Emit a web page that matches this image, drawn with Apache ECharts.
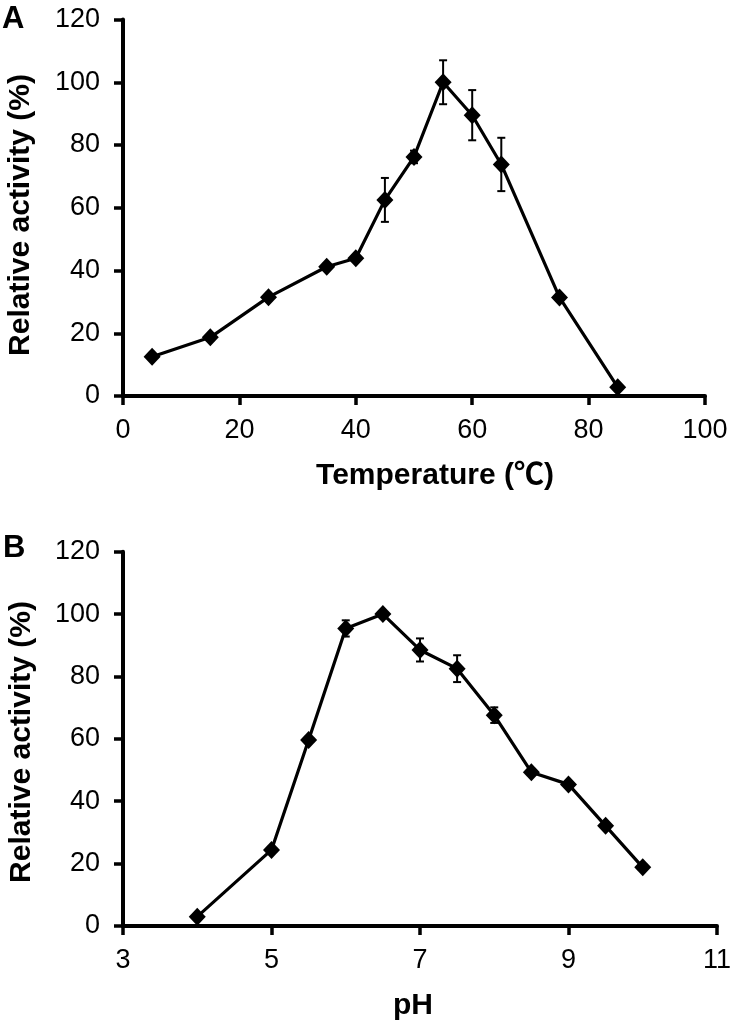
<!DOCTYPE html>
<html>
<head>
<meta charset="utf-8">
<script src="https://cdn.jsdelivr.net/npm/echarts@6/dist/echarts.min.js"></script>
<style>html,body{margin:0;padding:0;background:#fff}#c{width:734px;height:1029px}</style>
</head>
<body>
<div id="c"></div>
<script>
// Panel A: temperature
const tempX = [5, 15, 25, 35, 40, 45, 50, 55, 60, 65, 75, 85];
const tempY = [12.5, 18.7, 31.5, 41.2, 43.9, 62.5, 76.2, 100, 89.5, 73.8, 31.4, 2.8];
const tempErr = [0.8, 1, 1, 1, 1, 7, 2, 7, 8, 8.5, 1, 0.8];
// Panel B: pH
const phX = [4, 5, 5.5, 6, 6.5, 7, 7.5, 8, 8.5, 9, 9.5, 10];
const phY = [3.0, 24.4, 59.6, 95.4, 100, 88.5, 82.5, 67.6, 49.3, 45.4, 32.1, 18.8];
const phErr = [0.5, 0.5, 0.5, 2.6, 0.8, 3.7, 4.3, 2.5, 0.8, 0.8, 0.8, 0.5];
// axis ticks
const tempTicks = { min: 0, max: 100, interval: 20 };
const phTicks = { min: 3, max: 11, interval: 2 };
const yTicks = { min: 0, max: 120, interval: 20 };
const labels = { a: 'A', b: 'B', yTitle: 'Relative activity (%)', xA: 'Temperature (℃)', xB: 'pH' };

const FONT = '"Liberation Sans", Arial, "Noto Sans CJK SC", sans-serif';
const chart = echarts.init(document.getElementById('c'), null, { renderer: 'canvas' });

function errData(xs, ys, es) {
  return xs.map((x, i) => [x, ys[i] - es[i], ys[i] + es[i]]);
}
function errRender(params, api) {
  const x = api.value(0);
  const lo = api.coord([x, api.value(1)]);
  const hi = api.coord([x, api.value(2)]);
  const w = 4;
  const st = { stroke: '#000', lineWidth: 2 };
  return {
    type: 'group',
    children: [
      { type: 'line', shape: { x1: lo[0], y1: lo[1], x2: hi[0], y2: hi[1] }, style: st },
      { type: 'line', shape: { x1: lo[0] - w, y1: lo[1], x2: lo[0] + w, y2: lo[1] }, style: st },
      { type: 'line', shape: { x1: hi[0] - w, y1: hi[1], x2: hi[0] + w, y2: hi[1] }, style: st }
    ]
  };
}
function axisLineStyle() { return { show: true, onZero: false, lineStyle: { color: '#000', width: 4 } }; }
function axisTickStyle() { return { show: true, inside: false, length: 9, lineStyle: { color: '#000', width: 3.5 } }; }
function xAxisCfg(gi, t) {
  return {
    type: 'value', gridIndex: gi, min: t.min, max: t.max, interval: t.interval,
    axisLine: axisLineStyle(),
    axisTick: axisTickStyle(),
    axisLabel: { color: '#000', fontSize: 27, fontFamily: FONT, margin: 21 },
    splitLine: { show: false }
  };
}
function yAxisCfg(gi) {
  return {
    type: 'value', gridIndex: gi, min: yTicks.min, max: yTicks.max, interval: yTicks.interval,
    axisLine: axisLineStyle(),
    axisTick: axisTickStyle(),
    axisLabel: { color: '#000', fontSize: 27, fontFamily: FONT, margin: 23 },
    splitLine: { show: false }
  };
}
function lineSeries(idx, xs, ys) {
  return {
    type: 'line', xAxisIndex: idx, yAxisIndex: idx, z: 3,
    data: xs.map((x, i) => [x, ys[i]]),
    lineStyle: { color: '#000', width: 3.2 },
    itemStyle: { color: '#000' },
    symbol: 'diamond', symbolSize: [17, 18], showSymbol: true, animation: false
  };
}
function errSeries(idx, xs, ys, es) {
  return {
    type: 'custom', xAxisIndex: idx, yAxisIndex: idx, z: 2,
    data: errData(xs, ys, es), renderItem: errRender,
    encode: { x: 0, y: [1, 2] }, animation: false
  };
}
const titleStyle = (txt, x, y, rot) => ({
  type: 'text', x: x, y: y, rotation: rot || 0,
  style: { text: txt, fill: '#000', font: 'bold 30px ' + FONT, textAlign: 'center', textVerticalAlign: 'middle' }
});

chart.setOption({
  backgroundColor: '#fff',
  animation: false,
  grid: [
    { left: 123, right: 29, top: 19.5, height: 376.5 },
    { left: 123, right: 14, top: 551.7, height: 374.3 }
  ],
  xAxis: [xAxisCfg(0, tempTicks), xAxisCfg(1, phTicks)],
  yAxis: [yAxisCfg(0), yAxisCfg(1)],
  series: [
    errSeries(0, tempX, tempY, tempErr),
    lineSeries(0, tempX, tempY),
    errSeries(1, phX, phY, phErr),
    lineSeries(1, phX, phY)
  ],
  graphic: [
    { type: 'text', left: 2, top: 4, style: { text: labels.a, fill: '#000', font: 'bold 31px ' + FONT } },
    { type: 'text', left: 3, top: 533, style: { text: labels.b, fill: '#000', font: 'bold 31px ' + FONT } },
    titleStyle(labels.yTitle, 21, 215, Math.PI / 2),
    titleStyle(labels.yTitle, 22, 742, Math.PI / 2),
    titleStyle(labels.xA, 435, 476),
    titleStyle(labels.xB, 413, 1006)
  ]
});
</script>
</body>
</html>
